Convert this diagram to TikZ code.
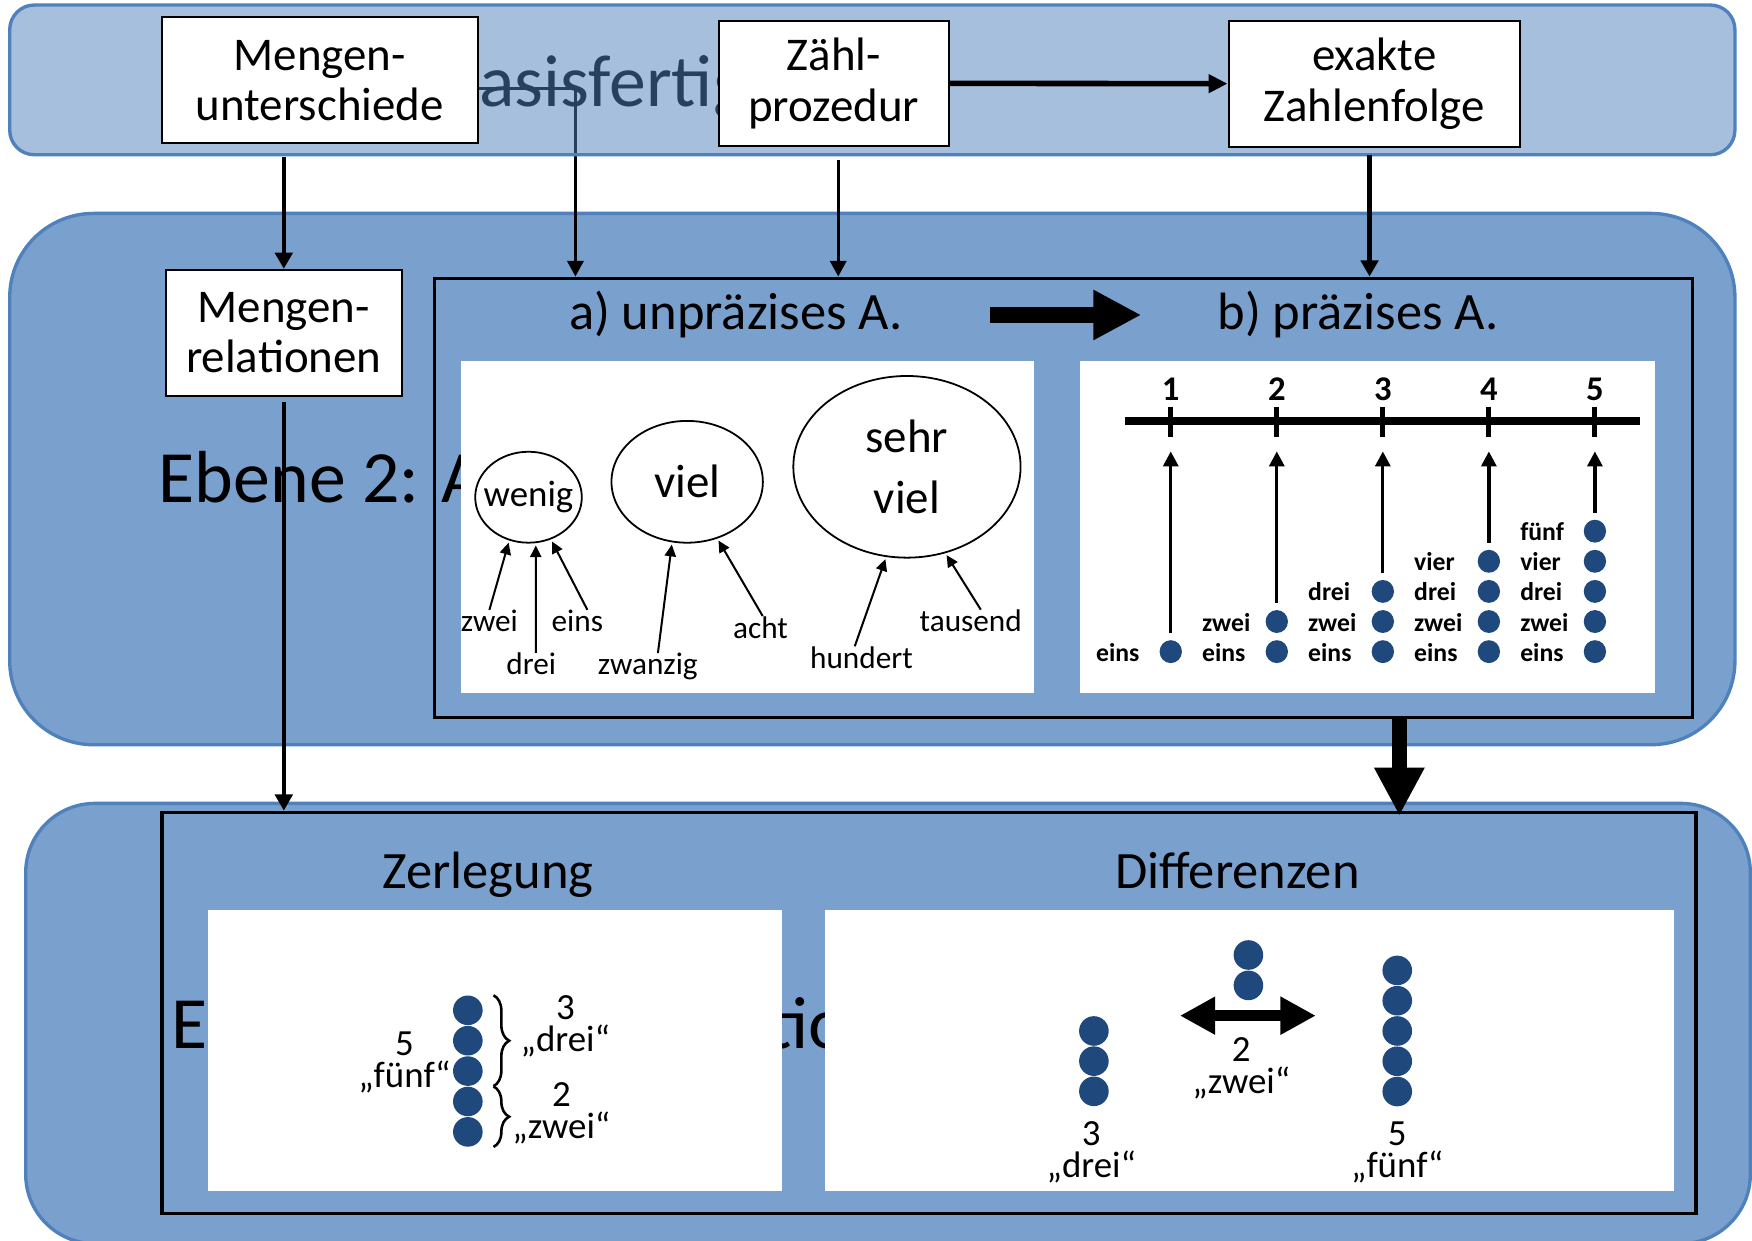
\documentclass[tikz,border=0pt]{standalone}
\usepackage{fontspec}
\setmainfont{Carlito}
\usepackage{xcolor}
\usepackage{tikz}
\usetikzlibrary{shapes.geometric,arrows.meta,decorations.pathreplacing}

\definecolor{bandblue}{RGB}{79,129,189}
\definecolor{levelblue}{RGB}{122,160,205}
\definecolor{dotblue}{RGB}{31,73,125}

\pgfdeclarelayer{levels}
\pgfdeclarelayer{hidden}
\pgfdeclarelayer{veil}
\pgfsetlayers{levels,hidden,veil,main}

\newcommand{\fsize}[2]{\fontsize{#1}{#2}\selectfont}
\newcommand{\zahlwort}[1]{\ifcase#1\or eins\or zwei\or drei\or vier\or fünf\fi}

\begin{document}
\begin{tikzpicture}[x=1pt, y=-1pt,
    band/.style={draw=bandblue, line width=3pt},
    box/.style={draw, fill=white, line width=1.8pt, align=center, inner sep=0pt, font=\fsize{42}{45}},
    rahmen/.style={draw, line width=3pt, inner sep=0pt},
    panel/.style={fill=white, inner sep=0pt},
    ebene/.style={anchor=base west, inner sep=0pt, font=\fsize{66}{70}},
    heading/.style={anchor=base, inner sep=0pt, font=\fsize{47}{50}},
    blob/.style={draw, ellipse, line width=1.6pt, inner sep=0pt},
    word/.style={anchor=base, inner sep=0pt, font=\fsize{28}{30}},
    countword/.style={anchor=base west, inner sep=0pt, font=\fsize{23}{25}\bfseries},
    numlab/.style={align=center, inner sep=0pt, font=\fsize{33}{28.5}},
    dot/.style={ellipse, fill=dotblue, inner sep=0pt, minimum width=20pt, minimum height=20.5pt},
    bigdot/.style={circle, fill=dotblue, inner sep=0pt, minimum size=26.5pt},
    link/.style={line width=4pt, -{Triangle[length=14.5pt,width=15.5pt]}},
    thinlink/.style={line width=2.6pt, -{Triangle[length=14pt,width=14.5pt]}},
    pointer/.style={line width=1.8pt, shorten >=2pt, -{Triangle[length=10.5pt,width=10pt]}},
    stemarrow/.style={line width=2.9pt, shorten <=6pt, -{Triangle[length=13.5pt,width=13.5pt]}},
    fat/.style={line width=14pt, -{Triangle[length=43pt,width=42pt]}},
    curly/.style={decorate, decoration={brace, amplitude=14pt}, line width=2.3pt}]

    \useasboundingbox (0,0) rectangle (1568,1110);

    % Level bands
    \begin{pgfonlayer}{levels}
        \fill[white] (0,0) rectangle (1568,1110);
        \draw[band, fill=levelblue, rounded corners=75pt] (8.7,191) rectangle (1552.7,666.5);
        \draw[band, fill=levelblue, rounded corners=62pt] (23,719) rectangle (1566.5,1113);
    \end{pgfonlayer}
    \begin{pgfonlayer}{veil}
        \draw[band, fill=bandblue, fill opacity=0.5, rounded corners=22pt] (8.7,4.5) rectangle (1552.7,138.5);
    \end{pgfonlayer}

    % Level titles
    \begin{pgfonlayer}{hidden}
        \node[ebene] (ebene1) at (429,95) {\llap{Ebene 1: B}asisfertigkeiten};
    \end{pgfonlayer}
    \node[ebene] (ebene2) at (142,450) {Ebene 2: Anzahlkonzept};
    \node[ebene] (ebene3) at (153,938) {Ebene 3: Anzahlrelationen};

    % Boxes
    \node[box, minimum width=282.5pt, minimum height=113pt] (unterschiede) at (286.2,71.9) {Mengen-\\unterschiede};
    \node[box, minimum width=206pt, minimum height=112pt] (zaehl) at (746.2,74.6) {Zähl-\\prozedur};
    \node[box, minimum width=261pt, minimum height=113pt] (exakt) at (1230,74.9) {exakte\\Zahlenfolge};
    \node[box, minimum width=211pt, minimum height=113pt] (relationen) at (254,298) {Mengen-\\relationen};

    % Frames and panels
    \node[rahmen, minimum width=1126pt, minimum height=393pt] (praezision) at (951.7,445.5) {};
    \node[rahmen, minimum width=1373pt, minimum height=359pt] (beziehung) at (831.5,906.5) {};
    \node[panel, minimum width=513pt, minimum height=297pt] (panA) at (669.2,471.5) {};
    \node[panel, minimum width=514.6pt, minimum height=297pt] (panB) at (1223.7,471.5) {};
    \node[panel, minimum width=514pt, minimum height=251.3pt] (panZ) at (443,940.5) {};
    \node[panel, minimum width=759.7pt, minimum height=251.3pt] (panD) at (1117.9,940.5) {};

    \node[heading] (unpraezise) at (658.7,295.3) {a) unpräzises A.};
    \node[heading] (praezise) at (1215.5,295.3) {b) präzises A.};
    \node[heading] (zerlegung) at (436.7,795.6) {Zerlegung};
    \node[heading] (differenzen) at (1107.5,795.6) {Differenzen};

    % Arrows between the levels
    \coordinate (knick) at (515,79);
    \begin{pgfonlayer}{hidden}
        \draw[thinlink] (unterschiede.east |- knick) -- (knick) -- (knick |- praezision.north);
    \end{pgfonlayer}
    \draw[link, shorten <=11.6pt] (relationen.north |- unterschiede.south) -- (relationen.north);
    \draw[thinlink, shorten <=12pt] ([xshift=4pt]zaehl.south) -- ([xshift=4pt]zaehl.south |- praezision.north);
    \draw[link, shorten <=6pt] ([xshift=-4.3pt]exakt.south) -- ([xshift=-4.3pt]exakt.south |- praezision.north);
    \draw[line width=5pt, -{Triangle[length=17pt,width=16pt]}] (zaehl.east) -- (exakt.west);
    \draw[link, shorten <=4pt] (relationen.south) -- (relationen.south |- beziehung.north);
    \draw[fat, shorten <=78pt, shorten >=68pt] (unpraezise.east) -- (praezise.west);
    \draw[fat, line width=13.6pt, shorten >=-4.6pt] ([xshift=300.7pt]praezision.south) -- ([xshift=300.7pt]praezision.south |- beziehung.north);

    % a) unpraezises Anzahlkonzept
    \node[blob, minimum width=95.4pt, minimum height=81.4pt] (wenig) at (473,445) {};
    \node[blob, minimum width=135.5pt, minimum height=109pt] (viel) at (615,431.2) {};
    \node[blob, minimum width=203.4pt, minimum height=162.6pt] (sehrviel) at (811.7,417.8) {};
    \node[font=\fsize{33}{35}, inner sep=0pt] at (wenig) {wenig};
    \node[font=\fsize{42}{45}, inner sep=0pt] at (viel) {viel};
    \node[font=\fsize{42}{54}, inner sep=0pt, align=center] at (sehrviel) {sehr\\viel};

    \node[word] (zwei) at (438,565.3) {zwei};
    \node[word] (eins) at (516.7,565.3) {eins};
    \node[word] (drei) at (475.5,604) {drei};
    \node[word] (zwanzig) at (579.8,604) {zwanzig};
    \node[word] (acht) at (680.6,571) {acht};
    \node[word] (hundert) at (771,598) {hundert};
    \node[word] (tausend) at (868.8,565.3) {tausend};

    \draw[pointer] (zwei.north) -- (wenig.-114);
    \draw[pointer] ([xshift=4pt]drei.north) -- (wenig.-81);
    \draw[pointer] ([xshift=9pt]eins.north) -- (wenig.-62);
    \draw[pointer] ([xshift=9pt]zwanzig.north) -- (viel.-104);
    \draw[pointer] ([xshift=2pt]acht.north) -- (viel.-62);
    \draw[pointer] ([xshift=-6pt]hundert.north) -- (sehrviel.-103.5);
    \draw[pointer] ([xshift=9pt]tausend.north) -- (sehrviel.-66.6);

    % b) praezises Anzahlkonzept
    \coordinate (zahlL) at (1007,376.8);
    \coordinate (zahlR) at (1467.5,376.8);
    \draw[line width=6.5pt] (zahlL) -- (zahlR);
    \foreach \i in {1,...,5} {
        \pgfmathsetmacro{\colx}{1047.8+94.9*(\i-1)}
        \draw[line width=4.5pt] (\colx,364) -- (\colx,391);
        \node[anchor=base, inner sep=0pt, font=\fsize{31}{33}\bfseries] (num\i) at (\colx,358) {\i};
        \foreach \j in {1,...,\i} {
            \node[dot] (d\i-\j) at (\colx,{583.2-26.95*(\j-1)}) {};
            \node[countword] at ([xshift=-67pt,yshift=-8.5pt]d\i-\j.center) {\zahlwort{\j}};
        }
        \coordinate (tip\i) at (\colx,404);
        \draw[stemarrow] (d\i-\i.north) -- (tip\i);
    }

    % Zerlegung
    \foreach \j in {1,...,5}
        \node[bigdot] (z\j) at (418.7,{904.2+27.2*(\j-1)}) {};
    \draw[curly] ([xshift=23pt]z1.north) -- ([xshift=23pt]z3.south);
    \draw[curly] ([xshift=23pt]z4.north) -- ([xshift=23pt]z5.south);
    \node[numlab] (teil3) at (506,918.5) {3\\„drei“};
    \node[numlab] (teil2) at (502.4,996.4) {2\\„zwei“};
    \node[numlab] (ganz5) at (362,950.9) {5\\„fünf“};

    % Differenzen
    \foreach \j in {1,2,3}
        \node[bigdot] (a\j) at (979,{922.7+27*(\j-1)}) {};
    \foreach \j in {1,2}
        \node[bigdot] (b\j) at (1117.3,{854.7+27.2*(\j-1)}) {};
    \foreach \j in {1,...,5}
        \node[bigdot] (c\j) at (1250.5,{868.5+27.1*(\j-1)}) {};
    \coordinate (diffL) at (1056,909);
    \coordinate (diffR) at (1177.6,909);
    \draw[line width=9.6pt, {Triangle[length=31.6pt,width=32pt]}-{Triangle[length=31.6pt,width=32pt]}] (diffL) -- (diffR);
    \node[numlab] (diff2) at (1110.9,956) {2\\„zwei“};
    \node[numlab] (menge3) at (976.7,1031.2) {3\\„drei“};
    \node[numlab] (menge5) at (1250.5,1031.2) {5\\„fünf“};

\end{tikzpicture}
\end{document}
